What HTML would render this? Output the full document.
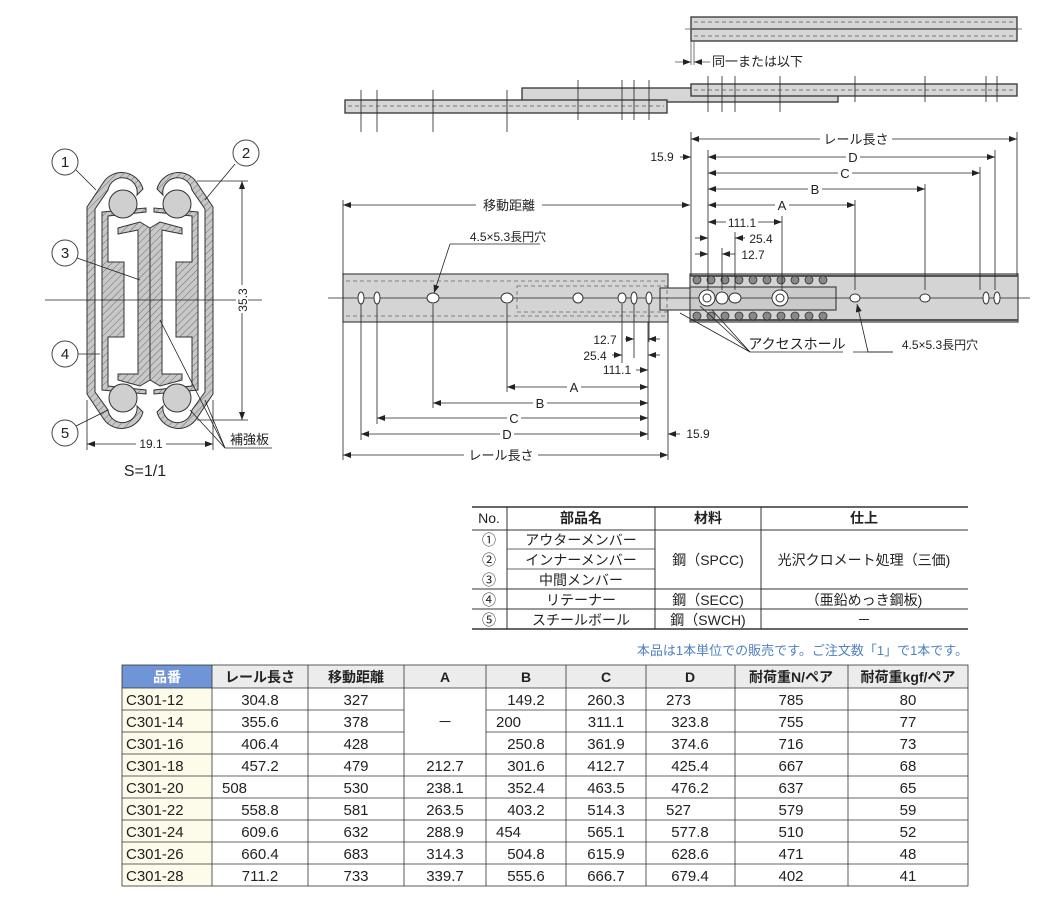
<!DOCTYPE html>
<html><head><meta charset="utf-8"><style>
html,body{margin:0;padding:0;background:#fff}
body{width:1052px;height:904px;overflow:hidden;position:relative;font-family:"Liberation Sans","Noto Sans CJK JP",sans-serif}
svg{position:absolute;left:0;top:0}
text{font-family:"Liberation Sans","Noto Sans CJK JP",sans-serif;fill:#222}
</style></head><body>
<svg width="1052" height="904" viewBox="0 0 1052 904" xmlns="http://www.w3.org/2000/svg">
<defs>
<pattern id="h" width="5" height="5" patternUnits="userSpaceOnUse" patternTransform="rotate(45)">
<rect width="5" height="5" fill="#c8c8c8"/><line x1="0" y1="0" x2="0" y2="5" stroke="#555" stroke-width="0.8"/></pattern>
<marker id="a" markerWidth="8" markerHeight="6" refX="8" refY="3" orient="auto-start-reverse" markerUnits="userSpaceOnUse"><path d="M0,0 L8,3 L0,6z" fill="#222"/></marker>
</defs>

<!-- ===== Cross section ===== -->
<g stroke="#333" stroke-width="1" fill="url(#h)">
<path d="M143,189 A22,22 0 0 0 103,183 L87,207 L87,394 L103,418 A22,22 0 0 0 143,412 L137,406 A14,14 0 0 1 108,410 L95,392 L95,209 L108,190 A14,14 0 0 1 137,195 Z"/>
<path d="M157,189 A22,22 0 0 1 197,183 L213,207 L213,394 L197,418 A22,22 0 0 1 157,412 L163,406 A14,14 0 0 0 192,410 L205,392 L205,209 L192,190 A14,14 0 0 0 163,195 Z"/>
<path d="M102,212 L146,208 L146,212 L108,216 L108,262 L124,262 L124,337 L108,337 L108,386 L146,390 L146,394 L102,390 Z"/>
<path d="M198,212 L154,208 L154,212 L192,216 L192,262 L176,262 L176,337 L192,337 L192,386 L154,390 L154,394 L198,390 Z"/>
<path d="M118,228 L140,222 L150,228 L150,380 L140,386 L118,380 L118,374 L138,374 L138,230 L118,234 Z"/>
<path d="M182,228 L160,222 L150,228 L150,380 L160,386 L182,380 L182,374 L162,374 L162,230 L182,234 Z"/>
</g>
<g fill="#cfcfcf" stroke="#333" stroke-width="1">
<circle cx="123" cy="204" r="14"/><circle cx="177" cy="204" r="14"/>
<circle cx="123" cy="398" r="14"/><circle cx="177" cy="398" r="14"/>
</g>
<g stroke="#222" stroke-width="0.8" fill="none">
<line x1="45" y1="300" x2="262" y2="300"/>
<line x1="197" y1="181" x2="248" y2="181"/><line x1="197" y1="420" x2="248" y2="420"/>
<line x1="242" y1="181" x2="242" y2="420" marker-start="url(#a)" marker-end="url(#a)"/>
<line x1="87" y1="400" x2="87" y2="450"/><line x1="213" y1="400" x2="213" y2="450"/>
<line x1="87" y1="444" x2="213" y2="444" marker-start="url(#a)" marker-end="url(#a)"/>
<line x1="76" y1="170" x2="96" y2="190"/><line x1="235" y1="164" x2="205" y2="200"/>
<line x1="77" y1="258" x2="140" y2="280"/><line x1="77" y1="354" x2="100" y2="354"/>
<line x1="76" y1="426" x2="108" y2="410"/>
<line x1="160" y1="320" x2="225" y2="448"/><line x1="190" y1="410" x2="225" y2="448"/><line x1="205" y1="400" x2="225" y2="448"/>
<line x1="225" y1="448" x2="272" y2="448"/>
</g>
<g fill="#fff" stroke="#444" stroke-width="1">
<circle cx="65" cy="162" r="13"/><circle cx="246" cy="153" r="13"/><circle cx="65" cy="253" r="13"/><circle cx="65" cy="354" r="13"/><circle cx="65" cy="433" r="13"/>
</g>
<g font-size="15" text-anchor="middle">
<text x="65" y="167">1</text><text x="246" y="158">2</text><text x="65" y="258">3</text><text x="65" y="359">4</text><text x="65" y="438">5</text>
</g>
<rect x="136" y="437" width="30" height="12" fill="#fff"/>
<text x="151" y="448" font-size="12" text-anchor="middle">19.1</text>
<rect x="236" y="285" width="12" height="28" fill="#fff"/>
<text x="247" y="300" font-size="12" text-anchor="middle" transform="rotate(-90 247 300)">35.3</text>
<text x="230" y="444" font-size="13">補強板</text>
<text x="145" y="476" font-size="16" text-anchor="middle">S=1/1</text>

<!-- ===== Top rails ===== -->
<g stroke="#333" stroke-width="1.3" fill="#d6d6d6">
<rect x="691" y="17" width="326" height="24"/>
<rect x="522" y="88" width="316" height="14"/>
<rect x="345" y="100" width="322" height="13"/>
<rect x="691" y="84" width="326" height="12"/>
</g>
<g stroke="#555" stroke-width="0.8" fill="none">
<line x1="691" y1="29" x2="1017" y2="29" stroke-width="1.5"/>
<line x1="685" y1="29" x2="1022" y2="29"/>
<line x1="694" y1="22" x2="1014" y2="22" stroke-dasharray="4 3"/>
<line x1="694" y1="36" x2="1014" y2="36" stroke-dasharray="4 3"/>
<line x1="348" y1="106" x2="664" y2="106" stroke-dasharray="4 3"/>
<line x1="694" y1="90" x2="1014" y2="90" stroke-dasharray="4 3"/>
<line x1="691" y1="41" x2="691" y2="65"/><line x1="694" y1="41" x2="694" y2="65"/>
<line x1="675" y1="62" x2="691" y2="62" marker-end="url(#a)"/><line x1="710" y1="62" x2="694" y2="62" marker-end="url(#a)"/>
</g>
<g stroke="#222" stroke-width="0.8">
<line x1="361" y1="90" x2="361" y2="132"/><line x1="377" y1="90" x2="377" y2="132"/><line x1="433" y1="90" x2="433" y2="132"/><line x1="507" y1="90" x2="507" y2="132"/>
<line x1="578" y1="80" x2="578" y2="120"/><line x1="622" y1="80" x2="622" y2="120"/><line x1="634" y1="80" x2="634" y2="120"/><line x1="649" y1="80" x2="649" y2="120"/>
<line x1="708" y1="76" x2="708" y2="112"/><line x1="722" y1="76" x2="722" y2="112"/><line x1="735" y1="76" x2="735" y2="112"/><line x1="780" y1="76" x2="780" y2="112"/>
<line x1="855" y1="76" x2="855" y2="102"/><line x1="925" y1="76" x2="925" y2="102"/><line x1="986" y1="76" x2="986" y2="102"/><line x1="997" y1="76" x2="997" y2="102"/>
</g>
<text x="712" y="66" font-size="13">同一または以下</text>

<!-- ===== Main rail ===== -->
<g stroke="#444" stroke-width="1.2">
<rect x="343" y="274" width="325" height="48" fill="#d4d4d4"/>
<rect x="690" y="274" width="328" height="48" fill="#d4d4d4"/>
<rect x="660" y="288" width="40" height="22" fill="#d4d4d4"/>
<rect x="690" y="287" width="146" height="23" fill="#cacaca"/>
</g>
<g stroke="#666" stroke-width="0.8" fill="none" stroke-dasharray="4 3">
<line x1="346" y1="281" x2="666" y2="281"/><line x1="346" y1="316" x2="666" y2="316"/>
<rect x="517" y="286" width="150" height="26"/>
</g>
<g stroke="#555" stroke-width="2"><line x1="690" y1="276" x2="1018" y2="276"/><line x1="690" y1="320" x2="1018" y2="320"/></g>
<g fill="#888" stroke="#333" stroke-width="0.8">
<circle cx="697" cy="280" r="4"/><circle cx="711" cy="280" r="4"/><circle cx="725" cy="280" r="4"/><circle cx="739" cy="280" r="4"/><circle cx="753" cy="280" r="4"/><circle cx="767" cy="280" r="4"/><circle cx="781" cy="280" r="4"/><circle cx="795" cy="280" r="4"/><circle cx="809" cy="280" r="4"/><circle cx="823" cy="280" r="4"/>
<circle cx="697" cy="316" r="4"/><circle cx="711" cy="316" r="4"/><circle cx="725" cy="316" r="4"/><circle cx="739" cy="316" r="4"/><circle cx="753" cy="316" r="4"/><circle cx="767" cy="316" r="4"/><circle cx="781" cy="316" r="4"/><circle cx="795" cy="316" r="4"/><circle cx="809" cy="316" r="4"/><circle cx="823" cy="316" r="4"/>
</g>
<line x1="328" y1="298" x2="1030" y2="298" stroke="#222" stroke-width="0.8"/>
<g fill="#fff" stroke="#333" stroke-width="1">
<ellipse cx="361" cy="298" rx="3" ry="6"/><ellipse cx="377" cy="298" rx="3" ry="6"/><ellipse cx="433" cy="298" rx="6" ry="5"/><ellipse cx="507" cy="298" rx="6" ry="5"/><ellipse cx="578" cy="298" rx="5" ry="5"/>
<ellipse cx="622" cy="298" rx="4" ry="5"/><ellipse cx="634" cy="298" rx="3" ry="6"/><ellipse cx="649" cy="298" rx="3" ry="6"/>
<circle cx="707" cy="298" r="8"/><circle cx="707" cy="298" r="4"/><circle cx="722" cy="298" r="6"/><ellipse cx="735" cy="298" rx="6" ry="5"/><circle cx="780" cy="298" r="8"/><circle cx="780" cy="298" r="4"/>
<ellipse cx="855" cy="298" rx="5" ry="4"/><ellipse cx="925" cy="298" rx="5" ry="4"/><ellipse cx="986" cy="298" rx="3" ry="6"/><ellipse cx="997" cy="298" rx="3" ry="6"/>
</g>

<!-- upper dims -->
<g stroke="#222" stroke-width="0.8" fill="none">
<line x1="691" y1="132" x2="691" y2="275"/><line x1="708" y1="150" x2="708" y2="290"/>
<line x1="1017" y1="132" x2="1017" y2="275"/><line x1="995" y1="150" x2="995" y2="290"/><line x1="980" y1="167" x2="980" y2="290"/><line x1="925" y1="184" x2="925" y2="290"/><line x1="855" y1="200" x2="855" y2="290"/><line x1="782" y1="216" x2="782" y2="290"/><line x1="735" y1="232" x2="735" y2="290"/><line x1="722" y1="248" x2="722" y2="290"/>
<line x1="691" y1="139" x2="1017" y2="139" marker-start="url(#a)" marker-end="url(#a)"/>
<line x1="708" y1="157" x2="995" y2="157" marker-start="url(#a)" marker-end="url(#a)"/>
<line x1="680" y1="157" x2="691" y2="157" marker-end="url(#a)"/>
<line x1="708" y1="173" x2="980" y2="173" marker-start="url(#a)" marker-end="url(#a)"/>
<line x1="708" y1="189" x2="925" y2="189" marker-start="url(#a)" marker-end="url(#a)"/>
<line x1="708" y1="205" x2="855" y2="205" marker-start="url(#a)" marker-end="url(#a)"/>
<line x1="708" y1="222" x2="782" y2="222" marker-start="url(#a)" marker-end="url(#a)"/>
<line x1="695" y1="238" x2="708" y2="238" marker-end="url(#a)"/><line x1="745" y1="238" x2="735" y2="238" marker-end="url(#a)"/>
<line x1="695" y1="254" x2="708" y2="254" marker-end="url(#a)"/><line x1="735" y1="254" x2="722" y2="254" marker-end="url(#a)"/>
<line x1="343" y1="205" x2="690" y2="205" marker-start="url(#a)" marker-end="url(#a)"/>
<line x1="343" y1="200" x2="343" y2="275"/>
<line x1="540" y1="244" x2="450" y2="244"/><line x1="450" y1="244" x2="434" y2="293" marker-end="url(#a)"/>
</g>
<g font-size="13" text-anchor="middle">
<rect x="820" y="131" width="72" height="15" fill="#fff"/><text x="856" y="144">レール長さ</text>
<rect x="846" y="150" width="14" height="14" fill="#fff"/><text x="853" y="162">D</text>
<rect x="838" y="166" width="14" height="14" fill="#fff"/><text x="845" y="178">C</text>
<rect x="808" y="182" width="14" height="14" fill="#fff"/><text x="815" y="194">B</text>
<rect x="775" y="198" width="14" height="14" fill="#fff"/><text x="782" y="210">A</text>
<rect x="726" y="215" width="32" height="14" fill="#fff"/><text x="742" y="227" font-size="12">111.1</text>
<text x="761" y="243" font-size="12">25.4</text><text x="753" y="259" font-size="12">12.7</text>
<text x="662" y="161" font-size="12">15.9</text>
<rect x="476" y="198" width="66" height="14" fill="#fff"/><text x="509" y="210">移動距離</text>
<text x="508" y="241" font-size="12">4.5×5.3長円穴</text>
</g>

<!-- lower dims -->
<g stroke="#222" stroke-width="0.8" fill="none">
<line x1="343" y1="322" x2="343" y2="460"/><line x1="668" y1="322" x2="668" y2="460"/><line x1="648" y1="322" x2="648" y2="440"/>
<line x1="361" y1="304" x2="361" y2="440"/><line x1="377" y1="304" x2="377" y2="424"/><line x1="433" y1="304" x2="433" y2="408"/><line x1="507" y1="304" x2="507" y2="392"/><line x1="622" y1="304" x2="622" y2="372"/><line x1="634" y1="304" x2="634" y2="358"/><line x1="649" y1="304" x2="649" y2="342"/>
<line x1="625" y1="339" x2="634" y2="339" marker-end="url(#a)"/><line x1="660" y1="339" x2="648" y2="339" marker-end="url(#a)"/>
<line x1="612" y1="355" x2="622" y2="355" marker-end="url(#a)"/><line x1="660" y1="355" x2="648" y2="355" marker-end="url(#a)"/>
<line x1="507" y1="387" x2="648" y2="387" marker-start="url(#a)" marker-end="url(#a)"/>
<line x1="622" y1="370" x2="648" y2="370" marker-start="url(#a)" marker-end="url(#a)"/>
<line x1="433" y1="403" x2="648" y2="403" marker-start="url(#a)" marker-end="url(#a)"/>
<line x1="377" y1="418" x2="648" y2="418" marker-start="url(#a)" marker-end="url(#a)"/>
<line x1="361" y1="434" x2="648" y2="434" marker-start="url(#a)" marker-end="url(#a)"/>
<line x1="680" y1="434" x2="668" y2="434" marker-end="url(#a)"/>
<line x1="343" y1="455" x2="668" y2="455" marker-start="url(#a)" marker-end="url(#a)"/>
<line x1="853" y1="352" x2="893" y2="352"/><line x1="843" y1="352" x2="750" y2="352"/>
<line x1="750" y1="352" x2="700" y2="306"/><line x1="750" y1="352" x2="712" y2="310"/><line x1="750" y1="352" x2="680" y2="313"/>
<line x1="893" y1="352" x2="868" y2="352"/><line x1="868" y1="352" x2="857" y2="304" marker-end="url(#a)"/>
</g>
<g font-size="13" text-anchor="middle">
<text x="605" y="344" font-size="12">12.7</text><text x="595" y="360" font-size="12">25.4</text>
<rect x="596" y="363" width="40" height="14" fill="#fff"/><text x="617" y="374" font-size="12">111.1</text>
<rect x="567" y="380" width="14" height="14" fill="#fff"/><text x="574" y="392">A</text>
<rect x="533" y="396" width="14" height="14" fill="#fff"/><text x="540" y="408">B</text>
<rect x="507" y="411" width="14" height="14" fill="#fff"/><text x="514" y="423">C</text>
<rect x="500" y="427" width="14" height="14" fill="#fff"/><text x="507" y="439">D</text>
<text x="698" y="438" font-size="12">15.9</text>
<rect x="464" y="447" width="74" height="15" fill="#fff"/><text x="501" y="460">レール長さ</text>
<text x="797" y="349" font-size="14">アクセスホール</text>
<text x="940" y="349" font-size="12">4.5×5.3長円穴</text>
</g>

<!-- ===== Parts table ===== -->
<g stroke="#333" fill="none">
<line x1="472" y1="507" x2="968" y2="507" stroke-width="1.5"/>
<line x1="472" y1="530" x2="968" y2="530"/>
<line x1="507" y1="549" x2="655" y2="549" stroke-width="0.7"/>
<line x1="507" y1="569" x2="655" y2="569" stroke-width="0.7"/>
<line x1="472" y1="589" x2="968" y2="589"/><line x1="472" y1="609" x2="968" y2="609"/>
<line x1="472" y1="629" x2="968" y2="629" stroke-width="1.5"/>
<line x1="507" y1="507" x2="507" y2="629"/><line x1="655" y1="507" x2="655" y2="629"/><line x1="761" y1="507" x2="761" y2="629"/>
</g>
<g font-size="14" text-anchor="middle">
<text x="489" y="523">No.</text><text x="581" y="523" font-weight="bold">部品名</text><text x="708" y="523" font-weight="bold">材料</text><text x="864" y="523" font-weight="bold">仕上</text>
<text x="489" y="545">①</text><text x="489" y="565">②</text><text x="489" y="585">③</text><text x="489" y="605">④</text><text x="489" y="625">⑤</text>
<text x="581" y="545">アウターメンバー</text><text x="581" y="565">インナーメンバー</text><text x="581" y="585">中間メンバー</text><text x="581" y="605">リテーナー</text><text x="581" y="625">スチールボール</text>
<text x="708" y="565">鋼（SPCC)</text><text x="708" y="605">鋼（SECC)</text><text x="708" y="625">鋼（SWCH)</text>
<text x="864" y="565">光沢クロメート処理（三価)</text><text x="864" y="605">（亜鉛めっき鋼板)</text><text x="864" y="625">－</text>
</g>
<text x="968" y="655" font-size="13" text-anchor="end" style="fill:#4f80c0">本品は1本単位での販売です。ご注文数「1」で1本です。</text>

<!-- ===== Spec table ===== -->
<rect x="122" y="665" width="90" height="23" fill="#7095d6"/>
<rect x="212" y="665" width="756" height="23" fill="#ececec"/>
<rect x="122" y="688" width="90" height="198" fill="#fdfbea"/>
<g stroke="#333" stroke-width="0.8" fill="none">
<rect x="122" y="665" width="846" height="221"/>
<line x1="122" y1="688" x2="968" y2="688"/>
<line x1="122" y1="710" x2="404" y2="710"/><line x1="486" y1="710" x2="968" y2="710"/>
<line x1="122" y1="732" x2="404" y2="732"/><line x1="486" y1="732" x2="968" y2="732"/>
<line x1="122" y1="754" x2="968" y2="754"/><line x1="122" y1="776" x2="968" y2="776"/><line x1="122" y1="798" x2="968" y2="798"/><line x1="122" y1="820" x2="968" y2="820"/><line x1="122" y1="842" x2="968" y2="842"/><line x1="122" y1="864" x2="968" y2="864"/>
<line x1="212" y1="665" x2="212" y2="886"/><line x1="308" y1="665" x2="308" y2="886"/><line x1="404" y1="665" x2="404" y2="886"/><line x1="486" y1="665" x2="486" y2="886"/><line x1="566" y1="665" x2="566" y2="886"/><line x1="646" y1="665" x2="646" y2="886"/><line x1="735" y1="665" x2="735" y2="886"/><line x1="848" y1="665" x2="848" y2="886"/>
</g>
<g font-size="14" text-anchor="middle" font-weight="bold">
<text x="167" y="682" style="fill:#fff">品番</text><text x="260" y="682">レール長さ</text><text x="356" y="682">移動距離</text><text x="445" y="682">A</text><text x="526" y="682">B</text><text x="606" y="682">C</text><text x="690" y="682">D</text><text x="791" y="682">耐荷重N/ペア</text><text x="908" y="682">耐荷重kgf/ペア</text>
</g>
<g font-size="15">
<g text-anchor="start">
<text x="126" y="705">C301-12</text><text x="126" y="727">C301-14</text><text x="126" y="749">C301-16</text><text x="126" y="771">C301-18</text><text x="126" y="793">C301-20</text><text x="126" y="815">C301-22</text><text x="126" y="837">C301-24</text><text x="126" y="859">C301-26</text><text x="126" y="881">C301-28</text>
<text x="222" y="793">508</text><text x="496" y="727">200</text><text x="496" y="837">454</text>
<text x="666" y="705">273</text><text x="666" y="815">527</text>
</g>
<g text-anchor="middle">
<text x="260" y="705">304.8</text><text x="260" y="727">355.6</text><text x="260" y="749">406.4</text><text x="260" y="771">457.2</text><text x="260" y="815">558.8</text><text x="260" y="837">609.6</text><text x="260" y="859">660.4</text><text x="260" y="881">711.2</text>
<text x="356" y="705">327</text><text x="356" y="727">378</text><text x="356" y="749">428</text><text x="356" y="771">479</text><text x="356" y="793">530</text><text x="356" y="815">581</text><text x="356" y="837">632</text><text x="356" y="859">683</text><text x="356" y="881">733</text>
<text x="445" y="727">－</text><text x="445" y="771">212.7</text><text x="445" y="793">238.1</text><text x="445" y="815">263.5</text><text x="445" y="837">288.9</text><text x="445" y="859">314.3</text><text x="445" y="881">339.7</text>
<text x="526" y="705">149.2</text><text x="526" y="749">250.8</text><text x="526" y="771">301.6</text><text x="526" y="793">352.4</text><text x="526" y="815">403.2</text><text x="526" y="859">504.8</text><text x="526" y="881">555.6</text>
<text x="606" y="705">260.3</text><text x="606" y="727">311.1</text><text x="606" y="749">361.9</text><text x="606" y="771">412.7</text><text x="606" y="793">463.5</text><text x="606" y="815">514.3</text><text x="606" y="837">565.1</text><text x="606" y="859">615.9</text><text x="606" y="881">666.7</text>
<text x="690" y="727">323.8</text><text x="690" y="749">374.6</text><text x="690" y="771">425.4</text><text x="690" y="793">476.2</text><text x="690" y="837">577.8</text><text x="690" y="859">628.6</text><text x="690" y="881">679.4</text>
<text x="791" y="705">785</text><text x="791" y="727">755</text><text x="791" y="749">716</text><text x="791" y="771">667</text><text x="791" y="793">637</text><text x="791" y="815">579</text><text x="791" y="837">510</text><text x="791" y="859">471</text><text x="791" y="881">402</text>
<text x="908" y="705">80</text><text x="908" y="727">77</text><text x="908" y="749">73</text><text x="908" y="771">68</text><text x="908" y="793">65</text><text x="908" y="815">59</text><text x="908" y="837">52</text><text x="908" y="859">48</text><text x="908" y="881">41</text>
</g>
</g>
</svg>
</body></html>
